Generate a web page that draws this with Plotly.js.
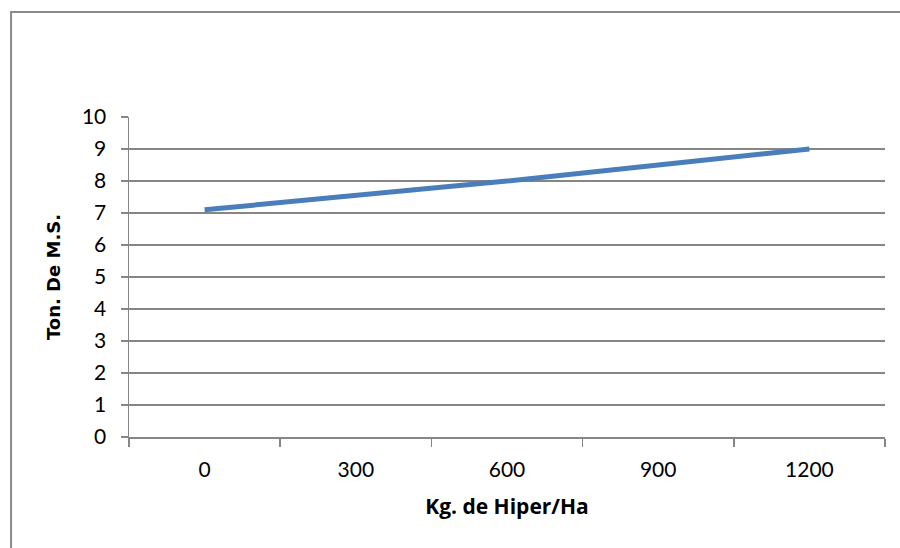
<!DOCTYPE html>
<html>
<head>
<meta charset="utf-8">
<script src="https://cdn.plot.ly/plotly-3.0.1.min.js"></script>
<style>html,body{margin:0;padding:0;background:#fff;}#chart{width:900px;height:548px;}</style>
</head>
<body>
<div id="chart"></div>
<script>
var categories = ["0", "300", "600", "900", "1200"];
var values = [7.1, 7.55, 8.0, 8.5, 9.0];
var yTicks = [0, 1, 2, 3, 4, 5, 6, 7, 8, 9, 10];
var xTitle = "Kg. de Hiper/Ha";
var yTitle = "Ton. De M.S.";

var trace = {
  x: categories,
  y: values,
  type: "scatter",
  mode: "lines",
  line: {color: "#4a7ebb", width: 5},
  hoverinfo: "x+y"
};

var axisGray = "#868686";
var layout = {
  width: 900,
  height: 548,
  margin: {l: 129, r: 15, t: 117, b: 111},
  paper_bgcolor: "#ffffff",
  plot_bgcolor: "#ffffff",
  showlegend: false,
  font: {family: "Lato, Calibri, sans-serif", color: "#000"},
  xaxis: {
    type: "category",
    range: [-0.5, 4.5],
    tickson: "boundaries",
    ticks: "outside",
    ticklen: 8,
    tickwidth: 1.5,
    tickcolor: axisGray,
    showline: true,
    linecolor: axisGray,
    linewidth: 1.5,
    showgrid: false,
    zeroline: false,
    tickfont: {family: "Lato, sans-serif", size: 21, color: "#000"},
    ticklabelstandoff: 13,
    title: {text: xTitle, font: {family: "Open Sans, sans-serif", size: 21, weight: "bold", color: "#000"}, standoff: 19},
    automargin: false,
    fixedrange: true
  },
  yaxis: {
    range: [0, 10],
    tickvals: yTicks,
    ticktext: yTicks.map(String),
    ticks: "outside",
    ticklen: 7,
    tickwidth: 1.5,
    tickcolor: axisGray,
    showline: true,
    linecolor: axisGray,
    linewidth: 1.5,
    showgrid: true,
    gridcolor: axisGray,
    gridwidth: 1.5,
    zeroline: false,
    tickfont: {family: "Lato, sans-serif", size: 21, color: "#000"},
    ticklabelstandoff: 10,
    title: {text: yTitle, font: {family: "DejaVu Sans, sans-serif", size: 18, weight: "bold", color: "#000"}, standoff: 16},
    automargin: false,
    fixedrange: true
  },
  shapes: [{
    type: "rect", xref: "paper", yref: "paper",
    x0: -0.156, x1: 1.03, y0: -0.4, y1: 1.328,
    line: {color: "#8a8a8a", width: 2},
    fillcolor: "rgba(0,0,0,0)",
    layer: "below"
  }]
};

Plotly.newPlot("chart", [trace], layout, {displayModeBar: false, staticPlot: true});
</script>
</body>
</html>
